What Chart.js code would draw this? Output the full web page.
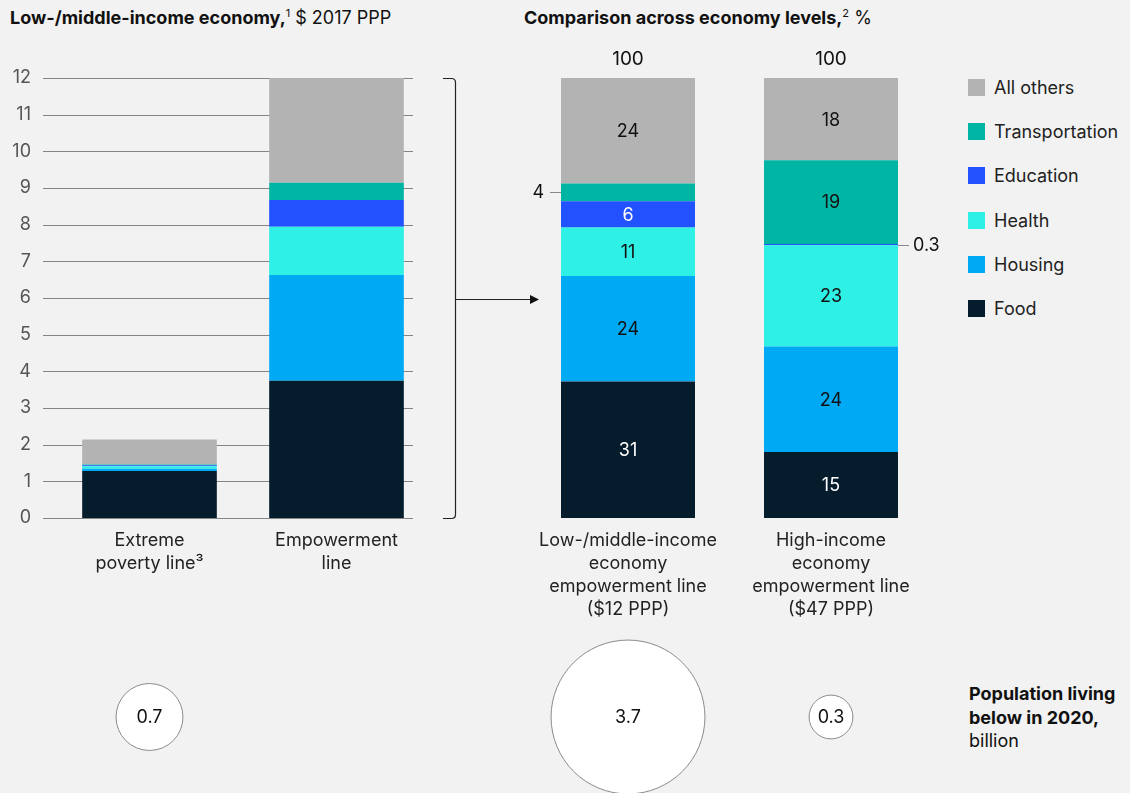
<!DOCTYPE html>
<html>
<head>
<meta charset="utf-8">
<script src="https://cdn.jsdelivr.net/npm/chart.js@4.4.1/dist/chart.umd.min.js"></script>
<style>
html,body{margin:0;padding:0;background:#f2f2f2;width:1130px;height:793px;overflow:hidden;font-family:Inter,"Liberation Sans",Arial,sans-serif;color:#222}
canvas{position:absolute;display:block}
.title{position:absolute;top:8px;font-size:18px;line-height:20px;white-space:nowrap;color:#111}
.title b{font-weight:700}
.title sup{font-size:11px;vertical-align:7px;line-height:0}
#legend{position:absolute;left:968px;top:79px}
.li{display:flex;align-items:center;height:17px;margin-bottom:27.2px;font-size:18px;color:#222;white-space:nowrap}
.sw{width:17px;height:17px;margin-right:9px;flex:none}
#pop{position:absolute;left:969px;top:682px;font-size:18px;line-height:23.5px;color:#111;white-space:nowrap}
#pop b{font-weight:700}
</style>
</head>
<body>
<div class="title" style="left:10px"><b>Low-/middle-income economy,</b><sup>1</sup> $ 2017 PPP</div>
<div class="title" style="left:524px"><b>Comparison across economy levels,</b><sup>2</sup> %</div>
<div id="legend"></div>
<div id="pop"><b>Population living<br>below in 2020,</b><br>billion</div>

<canvas id="leftChart" width="545" height="610" style="left:0;top:30px"></canvas>
<canvas id="rightChart" width="430" height="610" style="left:520px;top:30px"></canvas>
<canvas id="leftBubbles" width="545" height="172" style="left:0;top:631px"></canvas>
<canvas id="rightBubbles" width="430" height="172" style="left:520px;top:631px"></canvas>

<script>
// ---------- DATA ----------
const seriesNames = ['Food', 'Housing', 'Health', 'Education', 'Transportation', 'All others'];

// Left panel: $ 2017 PPP per day
const leftCategories = [['Extreme', 'poverty line³'], ['Empowerment', 'line']];
const leftFood      = [1.28, 3.74];
const leftHousing   = [0.06, 2.89];
const leftHealth    = [0.07, 1.31];
const leftEducation = [0.03, 0.73];
const leftTransport = [0.02, 0.47];
const leftOthers    = [0.68, 2.86];
const leftTicks     = [0, 1, 2, 3, 4, 5, 6, 7, 8, 9, 10, 11, 12];

// Right panel: % shares
const rightCategories = [
  ['Low-/middle-income', 'economy', 'empowerment line', '($12 PPP)'],
  ['High-income', 'economy', 'empowerment line', '($47 PPP)']
];
const rightFood      = [31, 15];
const rightHousing   = [24, 24];
const rightHealth    = [11, 23];
const rightEducation = [6, 0.3];
const rightTransport = [4, 19];
const rightOthers    = [24, 18.7];
const rightOthersText = ['24', '18'];
const rightTotals    = ['100', '100'];

// Population living below the line in 2020, billion
const popLeft  = [0.7];
const popRight = [3.7, 0.3];

// ---------- STYLE ----------
const FONT = 'Inter, "Liberation Sans", Arial, sans-serif';
const seriesColors = ['#051c2c', '#00a9f4', '#2ef0e5', '#2251ff', '#00b5a4', '#b3b3b3'];
const whiteText = [0, 3]; // Food, Education
Chart.defaults.font.family = FONT;
Chart.defaults.animation = false;

function makeDatasets(arrs) {
  return arrs.map((d, i) => ({
    label: seriesNames[i],
    data: d,
    backgroundColor: seriesColors[i],
    borderWidth: 0,
    barPercentage: 1,
    categoryPercentage: 1
  }));
}

// ---------- LEFT CHART ----------
const gridPlugin = {
  id: 'gridBracket',
  beforeDatasetsDraw(chart) {
    const {ctx, chartArea, scales: {y}} = chart;
    ctx.save();
    ctx.strokeStyle = '#858585';
    ctx.lineWidth = 1;
    leftTicks.forEach(t => {
      const py = Math.round(y.getPixelForValue(t)) + 0.5;
      ctx.beginPath();
      ctx.moveTo(chartArea.left - 13, py);
      ctx.lineTo(chartArea.right - 17, py);
      ctx.stroke();
    });
    ctx.restore();
  },
  afterDatasetsDraw(chart) {
    const {ctx, chartArea, scales: {y}} = chart;
    const total = [leftFood, leftHousing, leftHealth, leftEducation, leftTransport, leftOthers]
      .reduce((s, a) => s + a[1], 0);
    const top = Math.round(y.getPixelForValue(total)) + 0.5;
    const bot = Math.round(y.getPixelForValue(0)) + 0.5;
    const bx = chartArea.right + 25.5;
    const hx = chartArea.right + 13;
    const r = 4;
    ctx.save();
    ctx.strokeStyle = '#222';
    ctx.lineWidth = 1.2;
    ctx.beginPath();
    ctx.moveTo(hx, top);
    ctx.lineTo(bx - r, top);
    ctx.quadraticCurveTo(bx, top, bx, top + r);
    ctx.lineTo(bx, bot - r);
    ctx.quadraticCurveTo(bx, bot, bx - r, bot);
    ctx.lineTo(hx, bot);
    ctx.stroke();
    const my = Math.round((top + bot) / 2) + 0.5;
    const tip = chartArea.right + 109;
    ctx.beginPath();
    ctx.moveTo(bx, my);
    ctx.lineTo(tip - 8, my);
    ctx.stroke();
    ctx.fillStyle = '#111';
    ctx.beginPath();
    ctx.moveTo(tip, my);
    ctx.lineTo(tip - 9, my - 4.5);
    ctx.lineTo(tip - 9, my + 4.5);
    ctx.closePath();
    ctx.fill();
    ctx.restore();
  }
};

new Chart(document.getElementById('leftChart'), {
  type: 'bar',
  data: {
    labels: leftCategories,
    datasets: makeDatasets([leftFood, leftHousing, leftHealth, leftEducation, leftTransport, leftOthers])
      .map((d, i) => Object.assign(d, {barPercentage: 0.72}))
  },
  options: {
    responsive: false,
    devicePixelRatio: 1,
    events: [],
    layout: {padding: {top: 48, right: 115, left: 0, bottom: 0}},
    plugins: {legend: {display: false}, tooltip: {enabled: false}},
    scales: {
      x: {
        stacked: true,
        grid: {display: false, drawTicks: false},
        border: {display: false},
        ticks: {color: '#222', padding: 10.5, font: {size: 18, lineHeight: 1.29}, maxRotation: 0, autoSkip: false},
        afterFit: s => { s.height = 122; }
      },
      y: {
        stacked: true,
        min: 0, max: 12,
        afterBuildTicks: s => { s.ticks = leftTicks.map(v => ({value: v})); },
        grid: {display: false, drawTicks: false},
        border: {display: false},
        ticks: {color: '#555', padding: 25, font: {size: 18}},
        afterFit: s => { s.width = 56; }
      }
    }
  },
  plugins: [gridPlugin]
});

// ---------- RIGHT CHART ----------
const rightArrays = [rightFood, rightHousing, rightHealth, rightEducation, rightTransport, rightOthers];
function segText(di, j) {
  if (di === 5) return rightOthersText[j];
  return String(rightArrays[di][j]);
}
const segLabelPlugin = {
  id: 'segLabels',
  afterDatasetsDraw(chart) {
    const ctx = chart.ctx;
    ctx.save();
    ctx.font = '18px ' + FONT;
    ctx.textBaseline = 'middle';
    chart.data.datasets.forEach((ds, di) => {
      const meta = chart.getDatasetMeta(di);
      meta.data.forEach((bar, j) => {
        const p = bar.getProps(['x', 'y', 'base', 'width'], true);
        const h = p.base - p.y;
        const cy = (p.y + p.base) / 2;
        const txt = segText(di, j);
        if (h >= 22) {
          ctx.fillStyle = whiteText.includes(di) ? '#ffffff' : '#111';
          ctx.textAlign = 'center';
          ctx.fillText(txt, p.x, cy + 1);
        } else {
          const ly = Math.round(cy) + 0.5;
          ctx.strokeStyle = '#888';
          ctx.lineWidth = 1;
          ctx.fillStyle = '#111';
          ctx.beginPath();
          if (j === 0) {
            const left = p.x - p.width / 2;
            ctx.moveTo(left - 11, ly); ctx.lineTo(left, ly); ctx.stroke();
            ctx.textAlign = 'right';
            ctx.fillText(txt, left - 17, ly);
          } else {
            const right = p.x + p.width / 2;
            ctx.moveTo(right, ly); ctx.lineTo(right + 11, ly); ctx.stroke();
            ctx.textAlign = 'left';
            ctx.fillText(txt, right + 15, ly);
          }
        }
      });
    });
    // totals on top
    const lastMeta = chart.getDatasetMeta(chart.data.datasets.length - 1);
    ctx.fillStyle = '#111';
    ctx.textAlign = 'center';
    ctx.font = '19px ' + FONT;
    lastMeta.data.forEach((bar, j) => {
      ctx.fillText(rightTotals[j], bar.x, bar.y - 19);
    });
    ctx.restore();
  }
};

const rightChart = new Chart(document.getElementById('rightChart'), {
  type: 'bar',
  data: {
    labels: rightCategories,
    datasets: makeDatasets(rightArrays).map(d => Object.assign(d, {barPercentage: 0.66}))
  },
  options: {
    responsive: false,
    devicePixelRatio: 1,
    events: [],
    layout: {padding: {top: 48, right: 17.5, left: 6.5, bottom: 0}},
    plugins: {legend: {display: false}, tooltip: {enabled: false}},
    scales: {
      x: {
        stacked: true,
        grid: {display: false, drawTicks: false},
        border: {display: false},
        ticks: {color: '#222', padding: 10.5, font: {size: 18, lineHeight: 1.29}, maxRotation: 0, autoSkip: false},
        afterFit: s => { s.height = 122; }
      },
      y: {stacked: true, min: 0, max: 100, display: false}
    }
  },
  plugins: [segLabelPlugin]
});

// HTML legend generated from the right chart's datasets (top = last series)
const legendEl = document.getElementById('legend');
rightChart.data.datasets.slice().reverse().forEach(ds => {
  const row = document.createElement('div');
  row.className = 'li';
  const sw = document.createElement('span');
  sw.className = 'sw';
  sw.style.background = ds.backgroundColor;
  const t = document.createElement('span');
  t.textContent = ds.label;
  row.appendChild(sw); row.appendChild(t);
  legendEl.appendChild(row);
});

// ---------- POPULATION BUBBLES ----------
const radiusFor = v => 40 * Math.sqrt(v);
const bubbleLabelPlugin = {
  id: 'bubbleLabels',
  afterDatasetsDraw(chart) {
    const ctx = chart.ctx;
    const meta = chart.getDatasetMeta(0);
    ctx.save();
    ctx.font = '18px ' + FONT;
    ctx.fillStyle = '#111';
    ctx.textAlign = 'center';
    ctx.textBaseline = 'middle';
    meta.data.forEach((pt, i) => {
      ctx.fillText(String(chart.data.datasets[0].data[i].v), pt.x, pt.y + 1);
    });
    ctx.restore();
  }
};
function bubbleChart(id, labels, points, padLeft, padRight) {
  return new Chart(document.getElementById(id), {
    type: 'bubble',
    data: {
      labels: labels,
      datasets: [{
        data: points,
        backgroundColor: '#ffffff',
        borderColor: '#8a8a8a',
        borderWidth: 1,
        clip: false
      }]
    },
    options: {
      responsive: false,
      devicePixelRatio: 1,
      events: [],
      layout: {autoPadding: false, padding: {top: 0, bottom: 0, left: padLeft, right: padRight}},
      plugins: {legend: {display: false}, tooltip: {enabled: false}},
      scales: {
        x: {type: 'category', offset: true, display: false},
        y: {min: -1, max: 1, display: false}
      }
    },
    plugins: [bubbleLabelPlugin]
  });
}
bubbleChart('leftBubbles', leftCategories,
  popLeft.map((v, i) => ({x: i, y: 0, r: radiusFor(v), v: v})), 56, 115);
bubbleChart('rightBubbles', rightCategories,
  popRight.map((v, i) => ({x: i, y: 0, r: radiusFor(v), v: v})), 6.5, 17.5);
</script>
</body>
</html>
